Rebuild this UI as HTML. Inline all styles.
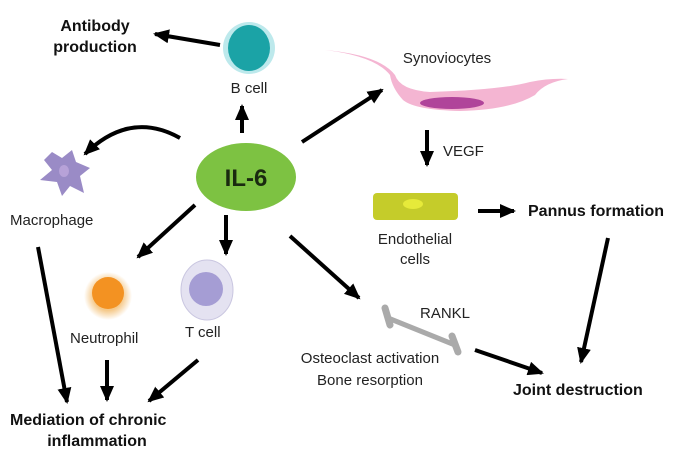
<!DOCTYPE html>
<html><head><style>
html,body{margin:0;padding:0;background:#fff;}
svg{display:block;font-family:"Liberation Sans",Arial,sans-serif;}
</style></head><body>
<svg width="689" height="455" viewBox="0 0 689 455" xmlns="http://www.w3.org/2000/svg">
<defs>
<marker id="a" markerWidth="16" markerHeight="14" refX="14" refY="7" orient="auto" markerUnits="userSpaceOnUse" viewBox="0 0 16 14">
<path d="M0,0 L16,7 L0,14 z" fill="#000"/></marker>
<radialGradient id="ng"><stop offset="0.6" stop-color="#f5c98a"/><stop offset="1" stop-color="#fff"/></radialGradient>
</defs>
<rect width="689" height="455" fill="#fff"/>
<g stroke="#000" stroke-width="4" fill="none" marker-end="url(#a)">
<line x1="220" y1="45" x2="155" y2="34"/>
<line x1="242" y1="133" x2="242" y2="106"/>
<path d="M180,138 Q130,110 85,154"/>
<line x1="302" y1="142" x2="382" y2="90"/>
<line x1="427" y1="130" x2="427" y2="165"/>
<line x1="478" y1="211" x2="514" y2="211"/>
<line x1="608" y1="238" x2="581" y2="362"/>
<line x1="195" y1="205" x2="138" y2="257"/>
<line x1="226" y1="215" x2="226" y2="254"/>
<line x1="290" y1="236" x2="359" y2="298"/>
<line x1="475" y1="350" x2="542" y2="373"/>
<line x1="38" y1="247" x2="67" y2="402"/>
<line x1="107" y1="360" x2="107" y2="400"/>
<line x1="198" y1="360" x2="149" y2="401"/>
</g>
<!-- B cell -->
<circle cx="249" cy="48" r="26" fill="#bde9ec"/>
<ellipse cx="249" cy="48" rx="21" ry="23" fill="#1ba3a6"/>
<!-- IL-6 -->
<ellipse cx="246" cy="177" rx="50" ry="34" fill="#7dc242"/>
<text x="246" y="186" text-anchor="middle" font-size="24" font-weight="bold" fill="#1a2a10">IL-6</text>
<!-- macrophage -->
<path d="M52,152 L62,158 L72,150 L76,162 L90,168 L80,176 L84,193 L70,186 L62,196 L57,182 L40,180 L52,170 L44,160 Z" fill="#9a8bc6"/>
<ellipse cx="64" cy="171" rx="5" ry="6" fill="#b7a2d8"/>
<!-- synoviocytes -->
<path d="M325,50 Q380,55 395,75 Q400,90 430,92 Q500,90 530,82 Q550,78 568,79 Q545,82 535,95 Q510,110 460,111 Q415,110 403,100 Q392,88 390,75 Q375,56 325,50 Z" fill="#f4b5d2"/>
<ellipse cx="452" cy="103" rx="32" ry="6" fill="#b0449a"/>
<!-- endothelial -->
<rect x="373" y="193" width="85" height="27" rx="4" fill="#c5cc2a"/>
<ellipse cx="413" cy="204" rx="10" ry="5" fill="#e6ea3a"/>
<!-- neutrophil -->
<circle cx="108" cy="296" r="24" fill="url(#ng)"/>
<circle cx="108" cy="293" r="16" fill="#f39222"/>
<!-- T cell -->
<ellipse cx="207" cy="290" rx="26" ry="30" fill="#e4e2f1" stroke="#c9c6e0"/>
<circle cx="206" cy="289" r="17" fill="#a59dd4"/>
<!-- bone -->
<g stroke="#aaa" stroke-linecap="round">
<line x1="388" y1="318" x2="455" y2="345" stroke-width="5"/>
<line x1="385" y1="308" x2="390" y2="325" stroke-width="7"/>
<line x1="452" y1="336" x2="458" y2="352" stroke-width="7"/>
</g>
<g font-size="15" fill="#222">
<text x="249" y="93" text-anchor="middle">B cell</text>
<text x="447" y="63" text-anchor="middle">Synoviocytes</text>
<text x="443" y="156">VEGF</text>
<text x="415" y="244" text-anchor="middle">Endothelial</text>
<text x="415" y="264" text-anchor="middle">cells</text>
<text x="10" y="225">Macrophage</text>
<text x="70" y="343">Neutrophil</text>
<text x="185" y="337">T cell</text>
<text x="420" y="318">RANKL</text>
<text x="370" y="363" text-anchor="middle">Osteoclast activation</text>
<text x="370" y="385" text-anchor="middle">Bone resorption</text>
</g>
<g font-size="16" font-weight="bold" fill="#111">
<text x="95" y="31" text-anchor="middle">Antibody</text>
<text x="95" y="52" text-anchor="middle">production</text>
<text x="528" y="216">Pannus formation</text>
<text x="513" y="395">Joint destruction</text>
<text x="10" y="425">Mediation of chronic</text>
<text x="97" y="446" text-anchor="middle">inflammation</text>
</g>
</svg>
</body></html>
